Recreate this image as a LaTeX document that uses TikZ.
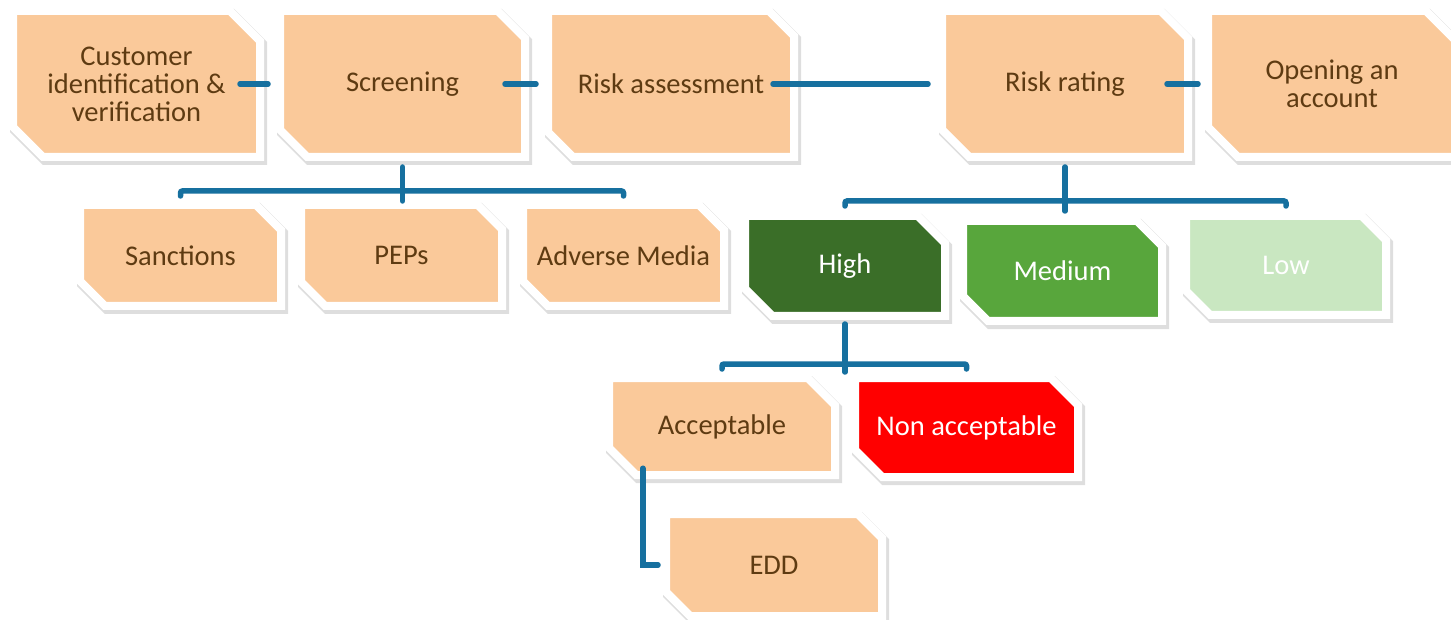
\documentclass[tikz,border=0pt]{standalone}
\usepackage{fontspec}
\setmainfont{Carlito}
\usetikzlibrary{shapes.misc}
\definecolor{peach}{HTML}{FAC99A}
\definecolor{txtbrown}{HTML}{5E3B12}
\definecolor{lineblue}{HTML}{16709F}
\definecolor{darkgr}{HTML}{3A6E28}
\definecolor{midgr}{HTML}{58A63C}
\definecolor{lightgr}{HTML}{C9E7C1}
\definecolor{alarmred}{HTML}{FF0000}
\tikzset{
  box/.style={chamfered rectangle,
    chamfered rectangle corners={north east,south west},
    chamfered rectangle xsep=15pt, chamfered rectangle ysep=15pt,
    draw=white, line width=8pt, inner sep=0pt, fill=peach,
    text=txtbrown, align=center,
    font=\fontsize{28.5}{28}\selectfont,
    preaction={draw=black, draw opacity=0.13, line width=10pt,
      transform canvas={xshift=2pt,yshift=-3pt}}},
  conn/.style={draw=lineblue, line width=5.5pt, line cap=round}
}
\begin{document}
\begin{tikzpicture}[x=1pt,y=-1pt]
\useasboundingbox[fill=white] (0,0) rectangle (1451,620);
% top row
\node[box, minimum width=247pt, minimum height=146pt] (cust) at (136.5,84) {Customer\\identification \&\\verification};
\node[box, minimum width=245pt, minimum height=146pt] (screen) at (402.5,84) {\raisebox{-2pt}{Screening}};
\node[box, minimum width=246pt, minimum height=146pt] (ra) at (671,84) {Risk assessment};
\node[box, minimum width=246pt, minimum height=146pt] (rr) at (1065,84) {\raisebox{-2pt}{Risk rating}};
\node[box, minimum width=248pt, minimum height=146pt] (open) at (1332,84) {Opening an\\account};
% screening children
\node[box, minimum width=201pt, minimum height=101pt] (sanc) at (180.5,255.5) {Sanctions};
\node[box, minimum width=201pt, minimum height=101pt] (peps) at (401.5,255.5) {PEPs};
\node[box, minimum width=201pt, minimum height=101pt] (adv) at (623.5,255.5) {Adverse Media};
% rating children
\node[box, fill=darkgr, text=white, minimum width=200pt, minimum height=100pt] (high) at (845,266) {High};
\node[box, fill=midgr, text=white, minimum width=199pt, minimum height=100pt] (med) at (1062.5,271) {Medium};
\node[box, fill=lightgr, text=white, minimum width=200pt, minimum height=99pt] (low) at (1286,265.5) {Low};
% high children
\node[box, minimum width=226pt, minimum height=97pt] (acc) at (722,426.5) {Acceptable};
\node[box, fill=alarmred, text=white, minimum width=223pt, minimum height=99pt] (nonacc) at (966.5,427.5) {Non acceptable};
\node[box, minimum width=216pt, minimum height=102pt] (edd) at (774,565) {EDD};
% connectors
\draw[conn] ([xshift=-24pt]cust.east) -- ([xshift=-8pt]screen.west);
\draw[conn] ([xshift=-24pt]screen.east) -- ([xshift=-8pt]ra.west);
\draw[conn] ([xshift=-25pt]ra.east) -- ([xshift=-10pt]rr.west);
\draw[conn] ([xshift=-25pt]rr.east) -- ([xshift=-6pt]open.west);
\draw[conn] ([yshift=-6pt]screen.south) -- ++(0,34);
\draw[conn, rounded corners=2pt] ([yshift=5pt]sanc.north) |- ([yshift=10pt]adv.north) -- ([yshift=5pt]adv.north);
\draw[conn] ([yshift=-6pt]rr.south) -- ++(0,44);
\draw[conn, rounded corners=2pt] ([yshift=6pt]high.north) |- ([yshift=11pt]low.north) -- ([yshift=6pt]low.north);
\draw[conn] ([yshift=-4pt]high.south) -- ++(0,48);
\draw[conn, rounded corners=2pt] ([yshift=5pt]acc.north) |- ([yshift=10pt]nonacc.north) -- ([yshift=5pt]nonacc.north);
\draw[conn] ([xshift=23pt,yshift=-4pt]acc.south west) |- ([xshift=-4pt]edd.west);
\end{tikzpicture}
\end{document}
